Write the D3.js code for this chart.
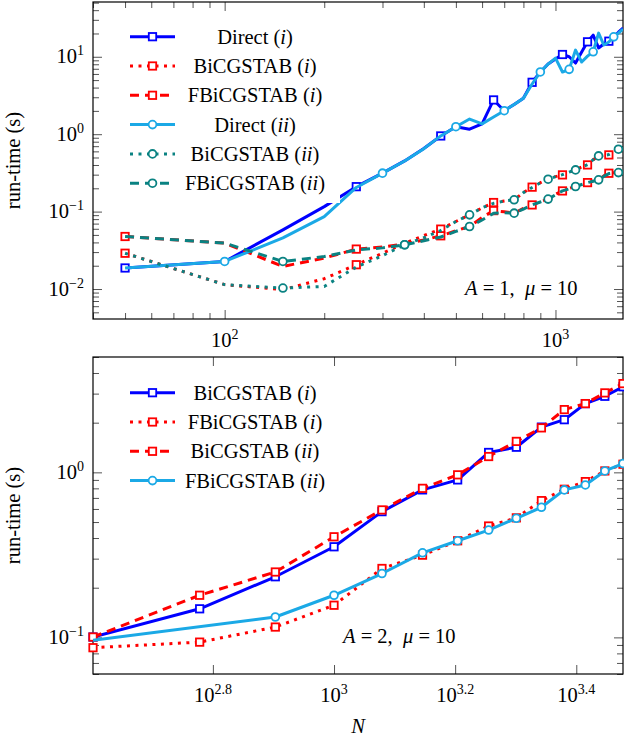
<!DOCTYPE html>
<html>
<head>
<meta charset="utf-8">
<script src="https://cdn.jsdelivr.net/npm/d3@7"></script>
<style>
  body { margin: 0; background: #fff; }
  text { font-family: "Liberation Serif", "Times New Roman", serif; fill: #000; }
</style>
</head>
<body>
<svg id="chart" width="624" height="742"></svg>
<script>
// ---------- upper panel: A = 1, mu = 10 ----------
const nTop = [50, 100, 150, 200, 250, 300, 350, 400, 450, 500, 550, 600, 650, 700, 750, 800,
              850, 900, 950, 1000, 1050, 1100, 1150, 1200, 1250, 1300, 1350, 1400, 1450, 1500, 1550, 1600];
const directI  = [0.0187, 0.0227, 0.0582, 0.116, 0.210, 0.314, 0.452, 0.655, 0.949, 1.25, 1.16, 1.36, 2.77, 2.01, 2.42, 2.91,
                  4.68, 6.35, 8.05, 9.34, 10.7, 10.0, 8.3, 11.5, 15.6, 19.0, 13.0, 14.6, 15.9, 17.9, 20.8, 23.5];
const bicgI    = [0.029, 0.0114, 0.0098, 0.0136, 0.0206, 0.029, 0.039, 0.049, 0.0594, 0.0745, 0.091, 0.112, 0.131, 0.137, 0.142, 0.176,
                  0.207, 0.236, 0.262, 0.283, 0.298, 0.324, 0.346, 0.376, 0.401, 0.468, 0.524, 0.532, 0.540, 0.597, 0.640, 0.659];
const fbicgI   = [0.0477, 0.0392, 0.0196, 0.0251, 0.0328, 0.035, 0.038, 0.043, 0.0487, 0.0565, 0.0642, 0.0839, 0.103, 0.0993, 0.0955, 0.110,
                  0.122, 0.134, 0.145, 0.167, 0.185, 0.199, 0.211, 0.225, 0.237, 0.249, 0.257, 0.289, 0.313, 0.317, 0.319, 0.329];
const directII = [0.0187, 0.0227, 0.0458, 0.0862, 0.205, 0.314, 0.45, 0.65, 0.95, 1.25, 1.57, 1.36, 1.67, 2.01, 2.42, 2.91,
                  4.45, 6.37, 8.05, 9.6, 6.35, 6.88, 12.2, 8.55, 10.2, 11.6, 20.2, 14.2, 15.5, 18.1, 20.2, 22.8];
const bicgII   = [0.029, 0.0114, 0.0103, 0.0108, 0.0192, 0.027, 0.0373, 0.046, 0.057, 0.0745, 0.0908, 0.112, 0.128, 0.137, 0.142, 0.176,
                  0.205, 0.236, 0.262, 0.283, 0.300, 0.324, 0.346, 0.376, 0.405, 0.468, 0.524, 0.532, 0.545, 0.597, 0.640, 0.659];
const fbicgII  = [0.0477, 0.0392, 0.0227, 0.0263, 0.032, 0.034, 0.0373, 0.042, 0.047, 0.0555, 0.0642, 0.078, 0.095, 0.097, 0.0955, 0.108,
                  0.122, 0.133, 0.145, 0.165, 0.185, 0.197, 0.211, 0.224, 0.237, 0.247, 0.257, 0.285, 0.310, 0.316, 0.319, 0.329];
const topXTicks = [100, 1000];
const topXExp = ["2", "3"];
const topYTicks = [0.01, 0.1, 1, 10];
const topYExp = ["\u22122", "\u22121", "0", "1"];

// ---------- lower panel: A = 2, mu = 10 ----------
const nBot = [400, 600, 800, 1000, 1200, 1400, 1600, 1800, 2000, 2200, 2400, 2600, 2800, 3000];
const botBicgI   = [0.1005, 0.149, 0.233, 0.354, 0.578, 0.783, 0.90, 1.32, 1.42, 1.88, 2.085, 2.61, 2.89, 3.30];
const botFbicgI  = [0.0866, 0.0936, 0.1155, 0.1566, 0.2616, 0.315, 0.385, 0.473, 0.53, 0.674, 0.79, 0.879, 1.02, 1.12];
const botBicgII  = [0.1005, 0.18, 0.249, 0.407, 0.592, 0.80, 0.966, 1.247, 1.54, 1.86, 2.40, 2.61, 3.03, 3.45];
const nBotCyan = [400, 800, 1000, 1200, 1400, 1600, 1800, 2000, 2200, 2400, 2600, 2800, 3000];
const botFbicgII = [0.096, 0.1329, 0.18, 0.2438, 0.3255, 0.385, 0.447, 0.527, 0.614, 0.783, 0.839, 1.02, 1.13];
const botXExp = ["2.8", "3", "3.2", "3.4"];
const botYTicks = [0.1, 1];
const botYExp = ["\u22121", "0"];

const blue = "#0000ff", red = "#ff0000", cyan = "#1ba9e6", teal = "#0a8282";
const dots = "3,5.5", dashes = "9,6";

const svg = d3.select("#chart");
const left = 93, right = 623;
const FS = 20.5;

function isDecade(v) {
  const l = Math.log10(v);
  return Math.abs(l - Math.round(l)) < 1e-9;
}

function drawMark(g, px, py, s) {
  if (s.mark === "square") {
    g.append("rect").attr("x", px - 3.7).attr("y", py - 3.7)
      .attr("width", 7.4).attr("height", 7.4)
      .attr("fill", "#fff").attr("stroke", s.color).attr("stroke-width", 1.8);
  } else {
    g.append("circle").attr("cx", px).attr("cy", py).attr("r", 3.9)
      .attr("fill", "#fff").attr("stroke", s.color).attr("stroke-width", 1.8);
  }
}

function powLabel(t, exp, small) {
  t.append("tspan").text("10");
  t.append("tspan").attr("font-size", small).attr("dy", -8).text(exp);
}

function drawPanel(p) {
  const x = d3.scaleLog().domain(p.xDomain).range([left, right]);
  const y = d3.scaleLog().domain(p.yDomain).range([p.bottom, p.top]);
  const g = svg.append("g");

  g.append("clipPath").attr("id", "clip-" + p.id)
    .append("rect").attr("x", left).attr("y", p.top)
    .attr("width", right - left).attr("height", p.bottom - p.top);

  // tick marks on all four sides, pointing inward
  const yMinor = y.ticks().filter(v => !isDecade(v));
  const xMinor = p.xMinor ? x.ticks().filter(v => !isDecade(v)) : [];
  const tickSets = [
    [d3.axisLeft(y), `translate(${left},0)`, p.yTicks, 9],
    [d3.axisLeft(y), `translate(${left},0)`, yMinor, 6],
    [d3.axisRight(y), `translate(${right},0)`, p.yTicks, 9],
    [d3.axisRight(y), `translate(${right},0)`, yMinor, 6],
    [d3.axisBottom(x), `translate(0,${p.bottom})`, p.xTicks, 9],
    [d3.axisBottom(x), `translate(0,${p.bottom})`, xMinor, 6],
    [d3.axisTop(x), `translate(0,${p.top})`, p.xTicks, 9],
    [d3.axisTop(x), `translate(0,${p.top})`, xMinor, 6]
  ];
  tickSets.forEach(([axis, tr, vals, size]) => {
    g.append("g").attr("transform", tr).attr("color", "#555")
      .call(axis.tickValues(vals).tickSize(-size).tickFormat(""))
      .call(a => a.select(".domain").remove())
      .call(a => a.selectAll("text").remove());
  });

  g.append("rect").attr("x", left).attr("y", p.top)
    .attr("width", right - left).attr("height", p.bottom - p.top)
    .attr("fill", "none").attr("stroke", "#000").attr("stroke-width", 1.2);

  // tick labels
  p.yTicks.forEach((v, i) => {
    const t = g.append("text").attr("x", left - 9).attr("y", y(v) + 6.6)
      .attr("text-anchor", "end").attr("font-size", FS);
    powLabel(t, p.yExp[i], 14);
  });
  p.xTicks.forEach((v, i) => {
    const t = g.append("text").attr("x", x(v)).attr("y", p.bottom + 27.5)
      .attr("text-anchor", "middle").attr("font-size", FS);
    powLabel(t, p.xExp[i], 14);
  });

  g.append("text").attr("font-size", FS).attr("text-anchor", "middle")
    .attr("transform", `translate(20,${(p.top + p.bottom) / 2}) rotate(-90)`)
    .text("run-time (s)");

  // series
  const line = d3.line().x(d => x(d[0])).y(d => y(d[1]));
  p.series.forEach(s => {
    const pts = s.n.map((n, i) => [n, s.v[i]]);
    g.append("path").datum(pts)
      .attr("clip-path", `url(#clip-${p.id})`)
      .attr("fill", "none").attr("stroke", s.color).attr("stroke-width", 3)
      .attr("stroke-dasharray", s.dash).attr("stroke-linejoin", "round")
      .attr("d", line);
    pts.forEach((d, i) => {
      if (i >= s.phase && (i - s.phase) % s.every === 0) drawMark(g, x(d[0]), y(d[1]), s);
    });
  });

  // legend
  const lb = p.legendBox;
  g.append("rect").attr("x", lb[0]).attr("y", lb[1]).attr("width", lb[2]).attr("height", lb[3])
    .attr("fill", "#fff");
  p.series.forEach((s, k) => {
    const ly = p.legendY0 + k * 29.3;
    g.append("line").attr("x1", 130).attr("x2", 175).attr("y1", ly).attr("y2", ly)
      .attr("stroke", s.color).attr("stroke-width", 3).attr("stroke-dasharray", s.dash);
    drawMark(g, 152.5, ly, s);
    const t = g.append("text").attr("x", 255).attr("y", ly + 7)
      .attr("text-anchor", "middle").attr("font-size", FS);
    t.append("tspan").text(s.name + " (");
    t.append("tspan").attr("font-style", "italic").text(s.tag);
    t.append("tspan").text(")");
  });

  // parameter note
  const nt = g.append("text").attr("x", p.note[0]).attr("y", p.note[1])
    .attr("font-size", FS).style("white-space", "pre");
  nt.append("tspan").attr("font-style", "italic").text("A");
  nt.append("tspan").text(" = " + p.noteA + ",  ");
  nt.append("tspan").attr("font-style", "italic").text("\u03bc");
  nt.append("tspan").text(" = 10");
}

drawPanel({
  id: "top", top: 2, bottom: 319,
  xDomain: [40, 1600], yDomain: [0.0041, 51],
  xTicks: topXTicks, xExp: topXExp, xMinor: true,
  yTicks: topYTicks, yExp: topYExp,
  legendBox: [118, 18, 222, 185], legendY0: 36.7,
  note: [465, 295], noteA: "1",
  series: [
    { name: "Direct", tag: "i", n: nTop, v: directI, color: blue, dash: null, mark: "square", phase: 0, every: 4 },
    { name: "BiCGSTAB", tag: "i", n: nTop, v: bicgI, color: red, dash: dots, mark: "square", phase: 0, every: 4 },
    { name: "FBiCGSTAB", tag: "i", n: nTop, v: fbicgI, color: red, dash: dashes, mark: "square", phase: 0, every: 4 },
    { name: "Direct", tag: "ii", n: nTop, v: directII, color: cyan, dash: null, mark: "circle", phase: 1, every: 4 },
    { name: "BiCGSTAB", tag: "ii", n: nTop, v: bicgII, color: teal, dash: dots, mark: "circle", phase: 2, every: 4 },
    { name: "FBiCGSTAB", tag: "ii", n: nTop, v: fbicgII, color: teal, dash: dashes, mark: "circle", phase: 2, every: 4 }
  ]
});

drawPanel({
  id: "bot", top: 357, bottom: 674,
  xDomain: [400, 3000], yDomain: [0.06, 5.0],
  xTicks: botXExp.map(e => Math.pow(10, +e)), xExp: botXExp, xMinor: false,
  yTicks: botYTicks, yExp: botYExp,
  legendBox: [118, 376, 222, 121], legendY0: 392.7,
  note: [343, 643], noteA: "2",
  series: [
    { name: "BiCGSTAB", tag: "i", n: nBot, v: botBicgI, color: blue, dash: null, mark: "square", phase: 0, every: 1 },
    { name: "FBiCGSTAB", tag: "i", n: nBot, v: botFbicgI, color: red, dash: dots, mark: "square", phase: 0, every: 1 },
    { name: "BiCGSTAB", tag: "ii", n: nBot, v: botBicgII, color: red, dash: dashes, mark: "square", phase: 0, every: 1 },
    { name: "FBiCGSTAB", tag: "ii", n: nBotCyan, v: botFbicgII, color: cyan, dash: null, mark: "circle", phase: 1, every: 1 }
  ]
});

svg.append("text").attr("x", 358).attr("y", 733).attr("text-anchor", "middle")
  .attr("font-size", FS).attr("font-style", "italic").text("N");
</script>
</body>
</html>
